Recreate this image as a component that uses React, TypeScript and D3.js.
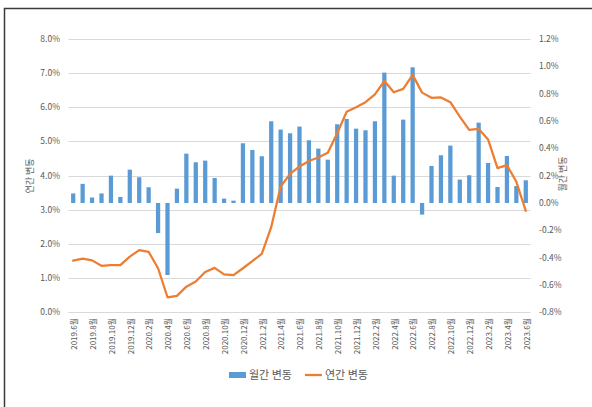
import * as d3 from 'd3';

// 2019.6 ~ 2023.6, monthly
const months: string[] = [];
for (let y = 2019, m = 6; y < 2023 || (y === 2023 && m <= 6); ) {
  months.push(`${y}.${m}월`);
  m++;
  if (m > 12) { m = 1; y++; }
}

// 월간 변동 (%), right axis
const monthly = [
  0.07, 0.14, 0.04, 0.07, 0.2, 0.044, 0.244, 0.188, 0.115, -0.22,
  -0.527, 0.105, 0.361, 0.298, 0.31, 0.183, 0.032, 0.017, 0.437, 0.388,
  0.342, 0.598, 0.537, 0.51, 0.559, 0.459, 0.398, 0.317, 0.576, 0.615,
  0.544, 0.532, 0.598, 0.954, 0.2, 0.61, 0.993, -0.085, 0.271, 0.349,
  0.42, 0.171, 0.203, 0.588, 0.293, 0.117, 0.344, 0.124, 0.166,
];

// 연간 변동 (%), left axis
const annual = [
  1.51, 1.57, 1.52, 1.36, 1.38, 1.38, 1.63, 1.82, 1.77, 1.29,
  0.44, 0.48, 0.75, 0.9, 1.18, 1.3, 1.11, 1.09, 1.29, 1.5,
  1.71, 2.49, 3.68, 4.05, 4.27, 4.43, 4.53, 4.67, 5.24, 5.87,
  6.0, 6.15, 6.38, 6.77, 6.44, 6.54, 6.95, 6.43, 6.28, 6.29,
  6.15, 5.73, 5.34, 5.37, 5.06, 4.22, 4.31, 3.82, 2.97,
];

const leftTicks = [0, 1, 2, 3, 4, 5, 6, 7, 8];
const rightTicks = [-0.8, -0.6, -0.4, -0.2, 0, 0.2, 0.4, 0.6, 0.8, 1.0, 1.2];

const W = 592;
const H = 407;
const FONT = '"Noto Sans CJK KR", "Noto Sans", sans-serif';
const TXT = '#595959';

export default function App() {
  const x = d3.scaleBand<string>().domain(months).range([68.5, 530.5]).paddingInner(0.55).paddingOuter(0.275);
  const xc = (m: string) => (x(m) as number) + x.bandwidth() / 2;
  const yL = d3.scaleLinear().domain([0, 8]).range([312.3, 39]);
  const yR = d3.scaleLinear().domain([-0.8, 1.2]).range([312.3, 39]);

  const line = d3.line<number>()
    .x((_, i) => xc(months[i]))
    .y(d => yL(d));

  return (
    <svg width={W} height={H} style={{ position: 'absolute', left: 0, top: 0, background: '#fff' }} fontFamily={FONT}>
      <rect x={4.5} y={8.5} width={620} height={420} fill="#fff" stroke="#3a3a3a" strokeWidth={1.5} />
      {leftTicks.map(t => (
        <g key={'g' + t}>
          <line x1={68.5} x2={530.5} y1={Math.round(yL(t)) + 0.5} y2={Math.round(yL(t)) + 0.5} stroke="#d9d9d9" strokeWidth={1} />
          <text x={60} y={yL(t)} dy="0.35em" textAnchor="end" fontSize={8.5} fill={TXT}>{t.toFixed(1)}%</text>
        </g>
      ))}
      {rightTicks.map(t => (
        <text key={'r' + t} x={539} y={yR(t)} dy="0.35em" textAnchor="start" fontSize={8.5} fill={TXT}>
          {(Math.abs(t) < 1e-9 ? 0 : t).toFixed(1)}%
        </text>
      ))}
      {monthly.map((v, i) => (
        <rect key={'b' + i} x={x(months[i])} width={x.bandwidth()}
          y={Math.min(yR(v), yR(0))} height={Math.abs(yR(v) - yR(0))} fill="#5b9bd5" />
      ))}
      <path d={line(annual) || ''} fill="none" stroke="#ed7d31" strokeWidth={2.25} strokeLinejoin="round" strokeLinecap="round" />
      {months.map((m, i) => i % 2 === 0 ? (
        <text key={'x' + i} transform={`translate(${xc(m) + 1},318) rotate(-90)`} dy="0.35em"
          textAnchor="end" fontSize={8} fill={TXT}>{m}</text>
      ) : null)}
      <text transform="translate(30,176) rotate(-90)" textAnchor="middle" dy="0.35em" fontSize={9} fill={TXT}>연간 변동</text>
      <text transform="translate(563,174) rotate(-90)" textAnchor="middle" dy="0.35em" fontSize={9} fill={TXT}>월간 변동</text>
      <g fontSize={11} fill={TXT}>
        <rect x={229} y={372} width={17} height={6} fill="#5b9bd5" />
        <text x={249} y={375} dy="0.35em">월간 변동</text>
        <line x1={305} x2={322} y1={375} y2={375} stroke="#ed7d31" strokeWidth={2.25} />
        <text x={325} y={375} dy="0.35em">연간 변동</text>
      </g>
    </svg>
  );
}
